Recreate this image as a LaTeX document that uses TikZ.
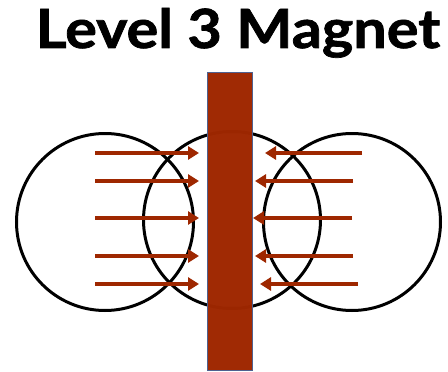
\documentclass[tikz,border=0pt]{standalone}
\usepackage{fontspec}
\setmainfont{Lato}[BoldFeatures={FakeBold=1.3}]
\usetikzlibrary{arrows.meta}
\definecolor{magred}{HTML}{9E2700}
\definecolor{magedge}{HTML}{4F6190}

\begin{document}
\begin{tikzpicture}[x=1pt, y=-1pt,
  loop/.style={draw, circle, line width=3pt, minimum size=177pt, inner sep=0pt},
  field/.style={-{Triangle[length=11pt, width=13pt]}, line width=3.6pt, draw=magred, fill=magred},
  magnet/.style={draw=magedge, fill=magred, line width=0.7pt, minimum width=45pt, minimum height=298pt, inner sep=0pt, fill opacity=0.985},
  ttl/.style={font=\bfseries\fontsize{54}{60}\selectfont, anchor=base}
]
  \useasboundingbox (0,0) rectangle (448,372);

  % Title
  \node[ttl] (title) at (238,48) {\scalebox{1.1}[1]{Level 3 Magnet}};

  % Field loops, left / middle / right
  \node[loop] (loopL) at (105,222) {};
  \node[loop] (loopM) at (232,220) {};
  \node[loop] (loopR) at (352,222) {};

  % Field arrows pointing into the magnet from both sides
  \foreach \y/\xr/\xt [count=\i] in {153/362/265, 181/353/255, 218/352/253, 256/353/255, 284/358/260} {
    \coordinate (inL\i) at (95,\y);
    \coordinate (tipL\i) at (199,\y);
    \coordinate (inR\i) at (\xr,\y);
    \coordinate (tipR\i) at (\xt,\y);
    \draw[field] (inL\i) -- (tipL\i);
    \draw[field] (inR\i) -- (tipR\i);
  }

  % Bar magnet on top
  \node[magnet] (bar) at (229.5,221) {};

\end{tikzpicture}
\end{document}
